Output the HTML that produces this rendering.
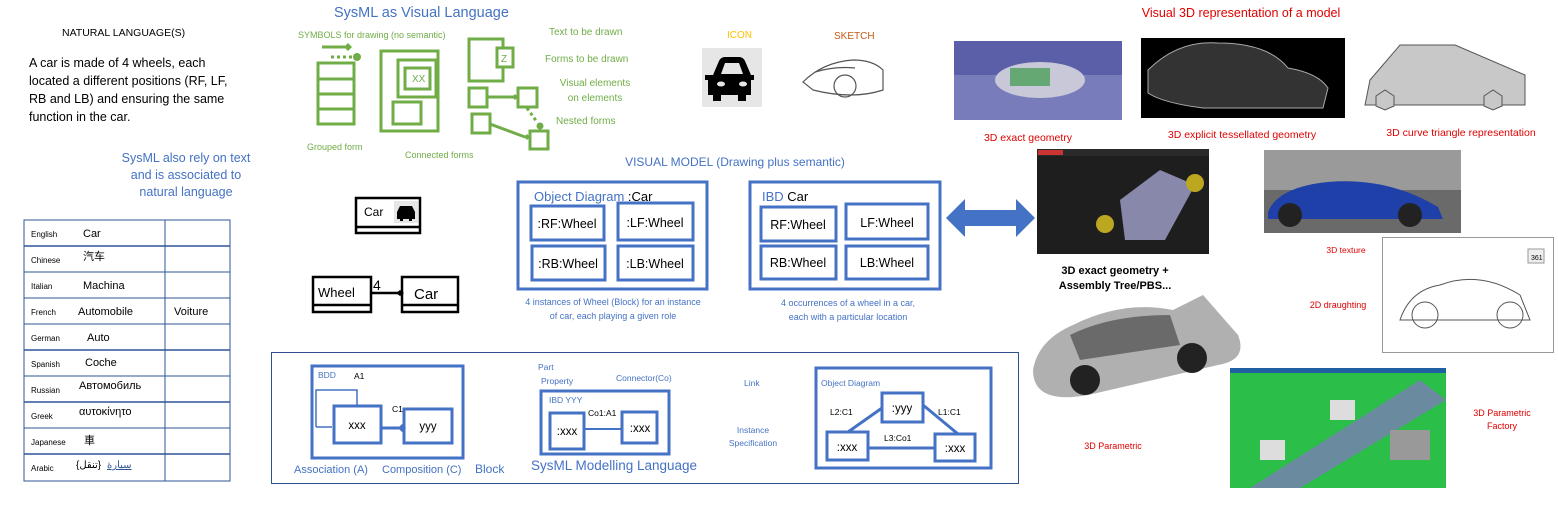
<!DOCTYPE html>
<html><head><meta charset="utf-8"><style>
html,body{margin:0;padding:0;background:#fff;}
svg{display:block;font-family:"Liberation Sans","Noto Sans CJK SC",sans-serif;}
</style></head><body>
<svg width="1558" height="517" viewBox="0 0 1558 517" xmlns="http://www.w3.org/2000/svg">
<!-- Natural language -->
<text x="62" y="36" font-size="10.5" fill="#000">NATURAL LANGUAGE(S)</text>
<g font-size="12.5" fill="#000">
<text x="29" y="67">A car is made of 4 wheels, each</text>
<text x="29" y="85">located a different positions (RF, LF,</text>
<text x="29" y="103">RB and LB) and ensuring the same</text>
<text x="29" y="121">function in the car.</text>
</g>
<g font-size="12.5" fill="#4472c4" text-anchor="middle">
<text x="186" y="162">SysML also rely on text</text>
<text x="186" y="179">and is associated to</text>
<text x="186" y="196">natural language</text>
</g>
<!-- Table -->
<g stroke="#2f5597" fill="none">
<rect x="24" y="220" width="206" height="261" stroke-width="1"/>
<line x1="165" y1="220" x2="165" y2="481"/>
<line x1="24" y1="246" x2="230" y2="246" stroke-width="1.5"/>
<line x1="24" y1="272" x2="230" y2="272"/>
<line x1="24" y1="298" x2="230" y2="298"/>
<line x1="24" y1="324" x2="230" y2="324"/>
<line x1="24" y1="350" x2="230" y2="350" stroke-width="1.5"/>
<line x1="24" y1="376" x2="230" y2="376"/>
<line x1="24" y1="402" x2="230" y2="402" stroke-width="1.5"/>
<line x1="24" y1="428" x2="230" y2="428"/>
<line x1="24" y1="454" x2="230" y2="454" stroke-width="1.5"/>
</g>
<g font-size="8" fill="#000">
<text x="31" y="237">English</text><text x="31" y="263">Chinese</text><text x="31" y="289">Italian</text>
<text x="31" y="315">French</text><text x="31" y="341">German</text><text x="31" y="367">Spanish</text>
<text x="31" y="393">Russian</text><text x="31" y="419">Greek</text><text x="31" y="445">Japanese</text>
<text x="31" y="471">Arabic</text>
</g>
<g font-size="11" fill="#000">
<text x="83" y="237">Car</text><text x="83" y="260" font-family="Noto Sans CJK SC,sans-serif">汽车</text>
<text x="83" y="289">Machina</text><text x="78" y="315">Automobile</text><text x="174" y="315">Voiture</text>
<text x="87" y="341">Auto</text><text x="85" y="366">Coche</text><text x="79" y="389">Автомобиль</text>
<text x="79" y="415">αυτοκίνητο</text><text x="84" y="444" font-family="Noto Sans CJK JP,sans-serif">車</text>
<text x="76" y="468" font-size="10">{تنقل}</text><text x="107" y="468" font-size="10" fill="#2f5597" text-decoration="underline">سيارة</text>
</g>
<!-- SysML as visual language -->
<text x="334" y="17" font-size="14.5" fill="#4472c4">SysML as Visual Language</text>
<text x="298" y="38" font-size="9" fill="#70ad47">SYMBOLS for drawing (no semantic)</text>
<g stroke="#70ad47" stroke-width="3" fill="none">
<line x1="322" y1="47" x2="345" y2="47"/>
<line x1="331" y1="57" x2="354" y2="57" stroke-dasharray="3,3"/>
<rect x="318" y="63" width="36" height="61"/>
<line x1="318" y1="79" x2="354" y2="79"/><line x1="318" y1="94" x2="354" y2="94"/><line x1="318" y1="109" x2="354" y2="109"/>
<rect x="381" y="51" width="57" height="80"/>
<rect x="398" y="60" width="38" height="37"/>
<rect x="405" y="68" width="25" height="21"/>
<rect x="393" y="102" width="28" height="22"/>
<rect x="469" y="39" width="34" height="42"/>
<rect x="497" y="48" width="16" height="19" fill="#fff"/>
<rect x="469" y="88" width="18" height="19"/>
<rect x="518" y="88" width="19" height="19"/>
<line x1="487" y1="97" x2="514" y2="97"/>
<rect x="472" y="114" width="18" height="19"/>
<rect x="530" y="131" width="18" height="18"/>
<line x1="490" y1="124" x2="525" y2="137"/>
<line x1="527" y1="108" x2="537" y2="122" stroke-dasharray="3,3"/>
</g>
<g fill="#70ad47">
<path d="M344,47 l4,-4 4,4 -4,4z"/><circle cx="357" cy="57" r="4"/>
<path d="M512,97 l3,-3 3,3 -3,3z"/><circle cx="540" cy="126" r="3.5"/><path d="M524,137 l3,-3 3,3 -3,3z"/>
</g>
<g font-size="10" fill="#70ad47">
<text x="412" y="82">XX</text><text x="501" y="62">Z</text>
<text x="549" y="35">Text to be drawn</text>
<text x="545" y="62">Forms to be drawn</text>
<text x="595" y="86" text-anchor="middle">Visual elements</text>
<text x="595" y="101" text-anchor="middle">on elements</text>
<text x="556" y="124">Nested forms</text>
<text x="307" y="150" font-size="9">Grouped form</text>
<text x="405" y="158" font-size="9">Connected forms</text>
</g>
<!-- Icon/Sketch -->
<text x="727" y="38" font-size="10" fill="#ffc000">ICON</text>
<text x="834" y="39" font-size="10" fill="#c55a11">SKETCH</text>
<rect x="702" y="48" width="60" height="59" fill="#e6e6e6"/>
<g fill="#000">
<path d="M713,75 l6,-14 q2,-4 6,-4 h14 q4,0 6,4 l6,14 h3 v5 h-3 v15 h-5 v6 h-8 v-6 h-17 v6 h-8 v-6 h-5 v-15 h-3 v-5z" />
</g>
<path d="M721,74 l4,-11 h14 l4,11z" fill="#e6e6e6"/>
<ellipse cx="721" cy="84" rx="4" ry="2.5" fill="#e6e6e6"/><ellipse cx="743" cy="84" rx="4" ry="2.5" fill="#e6e6e6"/>
<g fill="none" stroke="#555" stroke-width="1.2">
<path d="M803,82 q20,-20 50,-22 q20,0 30,10 l0,20 q-30,10 -70,0z"/>
<circle cx="845" cy="86" r="11"/><path d="M815,72 q20,-6 40,-4"/>
</g>
<!-- Car block + wheel car -->
<g stroke="#000" stroke-width="2.5" fill="none">
<rect x="356" y="198" width="64" height="35"/><line x1="356" y1="227" x2="420" y2="227"/>
<rect x="313" y="277" width="58" height="35"/><line x1="313" y1="305" x2="371" y2="305"/>
<rect x="402" y="277" width="56" height="35"/><line x1="402" y1="305" x2="458" y2="305"/>
<line x1="371" y1="293" x2="400" y2="293"/>
</g>
<path d="M396,293 l4,-3 4,3 -4,3z" fill="#000"/>
<rect x="394" y="201" width="24" height="22" fill="#e6e6e6"/>
<path d="M397,212 l3,-6 h12 l3,6 v7 h-3 v2 h-3 v-2 h-6 v2 h-3 v-2 h-3z" fill="#000"/>
<g font-size="12" fill="#000">
<text x="364" y="216">Car</text><text x="318" y="297" font-size="13">Wheel</text>
<text x="373" y="290" font-size="14">4</text><text x="414" y="299" font-size="15">Car</text>
</g>
<!-- Visual model -->
<text x="735" y="166" font-size="12" fill="#4472c4" text-anchor="middle">VISUAL MODEL (Drawing plus semantic)</text>
<g stroke="#4472c4" stroke-width="3" fill="none">
<rect x="518" y="182" width="189" height="107"/>
<rect x="531" y="206" width="73" height="34"/><rect x="618" y="203" width="75" height="37"/>
<rect x="532" y="246" width="73" height="34"/><rect x="618" y="246" width="75" height="34"/>
<rect x="750" y="182" width="190" height="107"/>
<rect x="761" y="207" width="75" height="34"/><rect x="846" y="204" width="82" height="35"/>
<rect x="761" y="246" width="75" height="33"/><rect x="846" y="246" width="82" height="33"/>
</g>
<text x="534" y="201" font-size="13" fill="#4472c4">Object Diagram <tspan fill="#000">:Car</tspan></text>
<text x="762" y="201" font-size="13" fill="#4472c4">IBD <tspan fill="#000">Car</tspan></text>
<g font-size="12.5" fill="#000" text-anchor="middle">
<text x="567" y="228">:RF:Wheel</text><text x="655" y="227">:LF:Wheel</text>
<text x="568" y="268">:RB:Wheel</text><text x="655" y="268">:LB:Wheel</text>
<text x="798" y="229">RF:Wheel</text><text x="887" y="227">LF:Wheel</text>
<text x="798" y="267">RB:Wheel</text><text x="887" y="267">LB:Wheel</text>
</g>
<g font-size="9" fill="#4472c4" text-anchor="middle">
<text x="613" y="305">4 instances of Wheel (Block) for an instance</text>
<text x="613" y="319">of car, each playing a given role</text>
<text x="848" y="306">4 occurrences of  a wheel  in a car,</text>
<text x="848" y="320">each with a particular location</text>
</g>
<!-- Double arrow -->
<path d="M946,218 l19,-19 v11 h51 v-11 l19,19 -19,19 v-11 h-51 v11z" fill="#4472c4"/>
<!-- Bottom box -->
<rect x="271.5" y="352.5" width="747" height="131" fill="none" stroke="#2f528f" stroke-width="1"/>
<g stroke="#4472c4" stroke-width="3" fill="none">
<rect x="312" y="366" width="151" height="92"/>
<rect x="334" y="406" width="47" height="37"/>
<rect x="404" y="409" width="48" height="34"/>
<line x1="381" y1="428" x2="400" y2="428"/>
<rect x="541" y="391" width="128" height="63"/>
<rect x="550" y="413" width="34" height="36"/>
<rect x="622" y="412" width="35" height="31"/>
<rect x="816" y="368" width="175" height="100"/>
<rect x="882" y="393" width="41" height="29"/>
<rect x="827" y="432" width="41" height="28"/>
<rect x="935" y="434" width="40" height="27"/>
<line x1="848" y1="432" x2="882" y2="408"/>
<line x1="958" y1="434" x2="923" y2="405"/>
<line x1="868" y1="448" x2="935" y2="448"/>
</g>
<line x1="584" y1="429" x2="622" y2="429" stroke="#4472c4" stroke-width="2"/>
<path d="M316,427 V390 H357 V406 M316,427 H332" fill="none" stroke="#4472c4" stroke-width="1.5"/>
<path d="M398,428 l4,-4 4,4 -4,4z" fill="#4472c4"/>
<g font-size="8.5" fill="#000">
<text x="354" y="379">A1</text><text x="392" y="412">C1</text>
<text x="588" y="416">Co1:A1</text>
<text x="830" y="415">L2:C1</text><text x="938" y="415">L1:C1</text><text x="884" y="441">L3:Co1</text>
</g>
<g font-size="8.5" fill="#4472c4">
<text x="318" y="378">BDD</text>
<text x="549" y="403">IBD YYY</text>
<text x="538" y="370">Part</text><text x="541" y="384">Property</text>
<text x="616" y="381">Connector(Co)</text>
<text x="744" y="386">Link</text>
<text x="753" y="433" text-anchor="middle">Instance</text>
<text x="753" y="446" text-anchor="middle">Specification</text>
<text x="821" y="386">Object Diagram</text>
</g>
<g font-size="11.5" fill="#000" text-anchor="middle">
<text x="357" y="429">xxx</text><text x="428" y="430">yyy</text>
<text x="567" y="435">:xxx</text><text x="640" y="432">:xxx</text>
<text x="902" y="412">:yyy</text><text x="847" y="451">:xxx</text><text x="955" y="452">:xxx</text>
</g>
<g font-size="11" fill="#4472c4">
<text x="294" y="473">Association (A)</text>
<text x="382" y="473">Composition (C)</text>
<text x="475" y="473" font-size="12">Block</text>
<text x="614" y="470" font-size="13.5" text-anchor="middle">SysML Modelling Language</text>
</g>
<!-- Right images -->
<text x="1241" y="17" font-size="12.5" fill="#e00000" text-anchor="middle">Visual  3D representation of a model</text>
<rect x="954" y="41" width="168" height="79" fill="#5a5fa8"/>
<rect x="954" y="75" width="168" height="45" fill="#8d8fc6" opacity="0.6"/>
<ellipse cx="1040" cy="80" rx="45" ry="18" fill="#c8c8d8"/>
<rect x="1010" y="68" width="40" height="18" fill="#3a9a4a" opacity="0.7"/>
<rect x="1141" y="38" width="204" height="80" fill="#000"/>
<path d="M1148,70 q30,-30 70,-27 q50,0 70,25 q30,5 40,20 l-5,20 h-120 q-40,-5 -55,-15z" fill="#333" stroke="#aaa"/>
<path d="M1370,80 l30,-35 h55 l70,30 v30 h-160z" fill="#c8c8c8" stroke="#555"/>
<polygon points="1376,96 1385,90 1394,96 1394,106 1385,110 1376,106" fill="#c8c8c8" stroke="#555"/>
<polygon points="1484,96 1493,90 1502,96 1502,106 1493,110 1484,106" fill="#c8c8c8" stroke="#555"/>
<g font-size="10.5" fill="#e00000" text-anchor="middle">
<text x="1028" y="141">3D exact geometry</text>
<text x="1242" y="138">3D explicit tessellated geometry</text>
<text x="1461" y="136">3D curve triangle representation</text>
</g>
<rect x="1037" y="149" width="172" height="105" fill="#1e1e1e"/>
<rect x="1037" y="149" width="172" height="7" fill="#2a2a2a"/><rect x="1038" y="150" width="25" height="5" fill="#c33"/>
<path d="M1120,200 l40,-30 l35,15 l-30,55 l-40,0z" fill="#8888aa"/>
<circle cx="1195" cy="183" r="9" fill="#bba820"/><circle cx="1105" cy="224" r="9" fill="#bba820"/>
<rect x="1264" y="150" width="197" height="83" fill="#6a6a6a"/>
<rect x="1264" y="150" width="197" height="40" fill="#9a9a9a"/>
<path d="M1268,212 q10,-25 60,-30 q60,-5 110,25 l5,12 h-175z" fill="#1e40a8"/>
<circle cx="1290" cy="215" r="12" fill="#222"/><circle cx="1410" cy="215" r="12" fill="#222"/>
<text x="1346" y="253" font-size="8.5" fill="#e00000" text-anchor="middle">3D texture</text>
<rect x="1382.5" y="237.5" width="171" height="115" fill="#fff" stroke="#999"/>
<path d="M1400,320 q10,-30 40,-35 q40,-15 80,10 l10,25z" fill="none" stroke="#555"/>
<circle cx="1425" cy="315" r="13" fill="none" stroke="#555"/><circle cx="1510" cy="315" r="13" fill="none" stroke="#555"/>
<rect x="1528" y="249" width="16" height="14" fill="#eee" stroke="#999"/>
<text x="1531" y="260" font-size="7" fill="#000">361</text>
<text x="1338" y="308" font-size="9" fill="#e00000" text-anchor="middle">2D draughting</text>
<text x="1115" y="274" font-size="11" font-weight="bold" fill="#000" text-anchor="middle">3D exact geometry +</text>
<text x="1115" y="289" font-size="11" font-weight="bold" fill="#000" text-anchor="middle">Assembly Tree/PBS...</text>
<path d="M1033,370 q5,-30 40,-45 q50,-25 100,-15 l30,-15 l35,40 q10,25 -20,30 l-130,30 q-55,10 -55,-25z" fill="#b0b0b0"/>
<path d="M1070,335 q40,-20 100,-20 l10,30 l-100,15z" fill="#6a6a6a"/>
<circle cx="1085" cy="380" r="15" fill="#222"/><circle cx="1192" cy="358" r="15" fill="#222"/>
<text x="1113" y="449" font-size="9" fill="#e00000" text-anchor="middle">3D Parametric</text>
<rect x="1230" y="368" width="216" height="120" fill="#2bbf4a"/>
<rect x="1230" y="368" width="216" height="5" fill="#2060a0"/>
<path d="M1250,488 L1420,380 L1446,400 L1300,488z" fill="#6a8aa0"/>
<rect x="1330" y="400" width="25" height="20" fill="#ddd"/><rect x="1260" y="440" width="25" height="20" fill="#ddd"/><rect x="1390" y="430" width="40" height="30" fill="#999"/>
<text x="1502" y="416" font-size="9" fill="#e00000" text-anchor="middle">3D Parametric</text>
<text x="1502" y="429" font-size="9" fill="#e00000" text-anchor="middle">Factory</text>
</svg>
</body></html>
